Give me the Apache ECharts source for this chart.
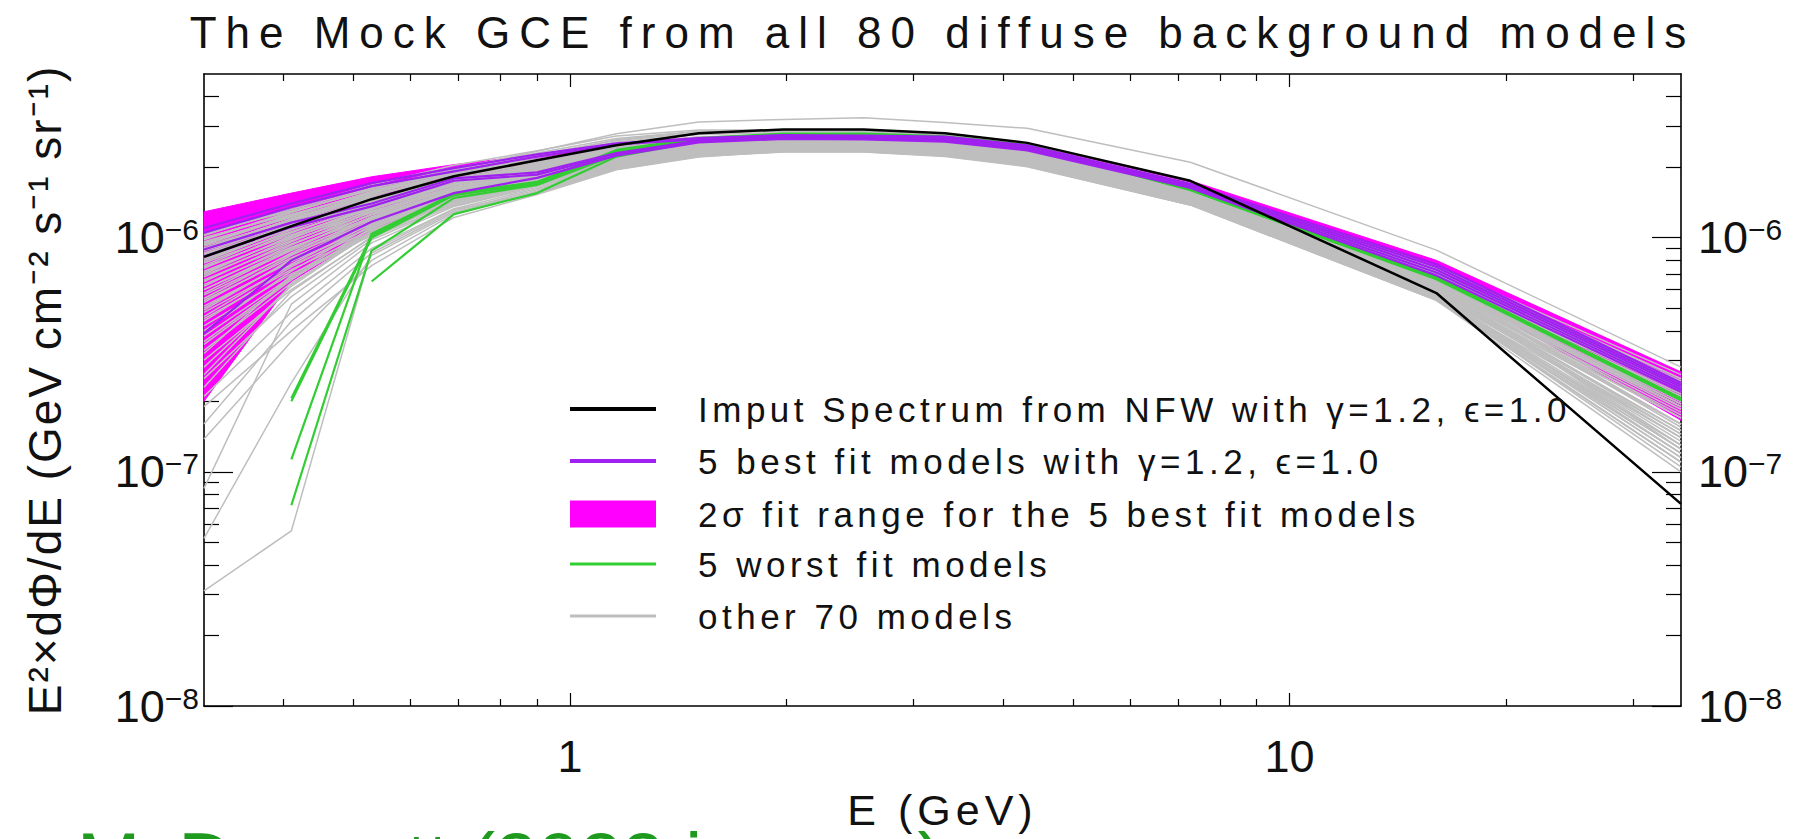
<!DOCTYPE html>
<html><head><meta charset="utf-8">
<script src="https://cdn.jsdelivr.net/npm/echarts@6/dist/echarts.min.js"></script>
<style>
html,body{margin:0;padding:0;background:#fff;}
#chart{width:1799px;height:839px;}
#chart text[style*="44px"]{letter-spacing:9px;}
#chart text[style*="35px"]{letter-spacing:4.5px;}
#chart text[style*="43px"]{letter-spacing:5px;}
#chart text[style*="46px"]{letter-spacing:2px;}
</style></head><body><div id="chart"></div>
<script>
// ---- data (flux values in units of 1e-7 GeV cm^-2 s^-1 sr^-1) ----
const UNIT = 1e-7;
const energies = [0.31, 0.41, 0.53, 0.69, 0.90, 1.16, 1.51, 1.98, 2.56, 3.32, 4.32, 7.28, 16.0, 35.0];
const inputSpectrum = [8.28, 11.2, 14.6, 18.3, 21.4, 24.8, 27.9, 29.0, 29.0, 27.9, 25.4, 17.5, 5.8, 0.73];
const bestFitModels = [
  [11.0, 14.0, 17.1, 19.8, 22.7, 25.3, 26.6, 27.4, 27.3, 27.0, 24.8, 17.0, 7.7, 2.4],
  [10.5, 13.5, 16.6, 19.2, 22.2, 25.0, 26.3, 27.2, 27.1, 26.6, 24.5, 16.8, 7.5, 2.35],
  [8.9, 11.6, 14.0, 17.9, 19.0, 23.0, 26.0, 26.8, 26.7, 26.2, 24.1, 16.6, 7.3, 2.3],
  [8.3, 11.1, 13.6, 17.5, 18.6, 22.7, 25.7, 26.6, 26.5, 25.9, 23.8, 16.4, 7.1, 2.25],
  [3.9, 8.0, 11.7, 15.5, 18.0, 22.4, 25.5, 26.4, 26.3, 25.7, 23.6, 16.3, 6.9, 2.2]
];
const bandUpper = [12.9, 15.5, 18.2, 20.5, 22.6, 25.2, 26.9, 27.5, 27.4, 26.9, 24.9, 17.5, 8.0, 2.67];
const bandLower = [2.0, 6.5, 10.6, 14.8, 17.6, 21.5, 25.0, 26.0, 26.0, 25.3, 23.3, 15.8, 6.6, 1.66];
const worstFitModels = [
  [null, 2.06, 10.2, 15.5, 17.3, 23.7, 26.6, 27.8, 27.8, 27.1, 24.9, 16.2, 6.8, 2.06],
  [null, 2.0, 10.0, 15.2, 17.0, 23.4, 26.4, 27.6, 27.6, 26.9, 24.8, 16.1, 6.75, 2.05],
  [null, 1.13, 10.4, 15.4, 17.2, 23.0, 26.2, 27.5, 27.5, 26.8, 24.7, 16.1, 6.7, 2.04],
  [null, 0.72, 8.8, 14.8, 16.8, 22.6, 26.0, 27.4, 27.4, 26.7, 24.6, 16.0, 6.7, 2.03],
  [null, null, 6.5, 12.6, 15.5, 22.2, 25.8, 27.2, 27.3, 26.6, 24.5, 16.0, 6.65, 2.02]
];
const otherModels = [
  [9.0, 12.0, 15.6, 19.6, 23.4, 27.8, 31.2, 32.0, 32.5, 31.0, 29.3, 21.0, 8.85, 2.8],
  [9.8, 12.8, 16.2, 19.8, 23.0, 26.5, 28.5, 28.7, 28.4, 27.2, 24.6, 16.8, 7.2, 2.4],
  [9.3, 12.3, 15.8, 19.4, 22.6, 26.0, 28.0, 28.4, 28.2, 27.0, 24.4, 16.6, 7.1, 2.3],
  [10.2, 13.4, 16.8, 20.4, 23.5, 27.2, 28.8, 28.8, 28.5, 27.4, 24.8, 17.0, 7.4, 2.5],
  [8.6, 11.6, 15.0, 18.8, 22.0, 25.6, 27.6, 28.0, 27.8, 26.6, 24.0, 16.4, 7.0, 2.3],
  [8.0, 11.0, 14.4, 18.2, 21.4, 25.0, 27.0, 27.5, 27.3, 26.2, 23.8, 16.2, 6.9, 2.2],
  [9.0, 12.0, 15.4, 19.0, 22.3, 26.2, 28.4, 28.7, 28.6, 27.4, 24.9, 17.1, 7.5, 2.6],
  [10.5, 13.0, 16.0, 19.0, 21.5, 24.5, 26.5, 27.0, 27.0, 26.0, 23.8, 16.2, 7.2, 2.5],
  [10.0, 12.6, 15.5, 18.6, 21.0, 24.0, 26.0, 26.8, 26.8, 25.8, 23.6, 16.0, 7.0, 2.4],
  [9.6, 12.2, 15.2, 18.2, 20.6, 23.6, 25.6, 26.4, 26.4, 25.4, 23.2, 15.8, 6.9, 2.3],
  [9.2, 11.8, 14.8, 17.8, 20.3, 23.3, 25.3, 26.2, 26.2, 25.2, 23.0, 15.6, 6.8, 2.2],
  [8.8, 11.5, 14.5, 17.5, 20.0, 23.0, 25.0, 25.9, 25.9, 24.9, 22.7, 15.5, 6.7, 2.1],
  [8.5, 11.2, 14.2, 17.2, 19.7, 22.8, 24.8, 25.6, 25.6, 24.6, 22.4, 15.3, 6.6, 2.0],
  [8.1, 10.9, 13.9, 16.9, 19.5, 22.6, 24.6, 25.4, 25.4, 24.4, 22.2, 15.2, 6.5, 1.95],
  [7.8, 10.6, 13.6, 16.7, 19.3, 22.4, 24.4, 25.2, 25.2, 24.2, 22.0, 15.0, 6.4, 1.9],
  [7.5, 10.3, 13.3, 16.4, 19.0, 22.2, 24.2, 25.0, 25.0, 24.0, 21.8, 14.9, 6.3, 1.85],
  [7.2, 10.0, 13.0, 16.2, 18.8, 22.0, 24.0, 24.8, 24.8, 23.8, 21.6, 14.8, 6.2, 1.8],
  [6.9, 9.7, 12.8, 16.0, 18.6, 21.8, 23.8, 24.6, 24.6, 23.6, 21.5, 14.7, 6.1, 1.75],
  [6.6, 9.4, 12.5, 15.8, 18.4, 21.6, 23.6, 24.5, 24.5, 23.5, 21.3, 14.6, 6.0, 1.7],
  [6.3, 9.1, 12.2, 15.5, 18.2, 21.4, 23.4, 24.3, 24.3, 23.3, 21.2, 14.5, 5.9, 1.6],
  [6.0, 8.8, 12.0, 15.3, 18.0, 21.2, 23.2, 24.1, 24.1, 23.1, 21.0, 14.4, 5.8, 1.5],
  [5.7, 8.5, 11.7, 15.0, 17.8, 21.0, 23.0, 24.0, 24.0, 23.0, 20.9, 14.3, 5.7, 1.45],
  [5.4, 8.2, 11.4, 14.8, 17.6, 20.8, 22.8, 23.8, 23.8, 22.8, 20.7, 14.2, 5.6, 1.4],
  [5.1, 7.9, 11.1, 14.5, 17.4, 20.6, 22.6, 23.6, 23.6, 22.6, 20.5, 14.0, 5.5, 1.3],
  [4.8, 7.6, 10.8, 14.2, 17.2, 20.4, 22.4, 23.4, 23.4, 22.4, 20.3, 13.9, 5.45, 1.2],
  [4.5, 7.3, 10.5, 14.0, 17.0, 20.2, 22.3, 23.3, 23.3, 22.3, 20.2, 13.8, 5.4, 1.1],
  [4.2, 7.0, 10.2, 13.7, 16.8, 20.0, 22.2, 23.2, 23.2, 22.2, 20.1, 13.8, 5.4, 1.0],
  [1.6, 4.4, 8.6, 13.0, 16.0, 20.0, 22.5, 23.8, 23.8, 22.8, 20.6, 14.0, 5.6, 1.25],
  [1.38, 3.6, 8.0, 12.6, 15.6, 19.8, 22.3, 23.6, 23.7, 22.7, 20.5, 13.9, 5.5, 1.15],
  [0.85, 5.2, 9.5, 13.6, 16.4, 20.3, 22.6, 23.9, 23.9, 22.9, 20.8, 14.2, 5.8, 1.4],
  [0.52, 2.4, 8.4, 12.8, 15.8, 19.9, 22.4, 23.7, 23.8, 22.8, 20.7, 14.1, 5.7, 1.3],
  [0.31, 0.56, 8.8, 13.2, 15.5, 19.6, 22.2, 23.5, 23.6, 22.6, 20.4, 13.8, 5.45, 1.1],
  [2.1, 4.8, 9.0, 13.3, 16.2, 20.2, 22.7, 24.0, 24.0, 23.0, 20.9, 14.3, 6.0, 1.6],
  [2.5, 5.6, 9.8, 13.8, 16.6, 20.5, 22.9, 24.1, 24.1, 23.1, 21.0, 14.4, 6.1, 1.7],
  [1.9, 4.0, 7.6, 12.2, 15.3, 19.5, 22.1, 23.4, 23.5, 22.5, 20.4, 13.9, 5.5, 1.05],
  [3.0, 6.0, 10.0, 14.0, 16.9, 20.7, 23.0, 24.2, 24.2, 23.2, 21.1, 14.5, 6.2, 1.9],
  [3.3, 6.4, 10.4, 14.3, 17.1, 20.9, 23.1, 24.3, 24.3, 23.3, 21.2, 14.6, 6.3, 2.0],
  [3.8, 6.8, 10.6, 14.6, 17.6, 21.0, 23.0, 24.0, 24.1, 23.2, 21.2, 14.6, 6.4, 2.1],
  [3.5, 6.6, 10.9, 15.0, 17.9, 21.3, 23.3, 24.3, 24.3, 23.4, 21.4, 14.9, 6.6, 2.2],
  [4.0, 7.2, 11.3, 15.3, 18.1, 21.5, 23.5, 24.6, 24.7, 23.7, 21.7, 15.1, 6.7, 2.3],
  [2.8, 6.2, 10.6, 14.8, 17.7, 21.1, 23.1, 24.2, 24.2, 23.3, 21.3, 14.7, 6.5, 2.15],
  [2.3, 5.9, 10.1, 14.4, 17.3, 20.8, 22.9, 24.0, 24.0, 23.1, 21.1, 14.5, 5.9, 1.5],
  [5.0, 8.0, 11.8, 15.6, 18.5, 21.7, 23.7, 24.7, 24.8, 23.9, 21.8, 15.0, 6.2, 1.6],
  [5.5, 8.6, 12.3, 16.0, 18.8, 22.0, 24.0, 25.0, 25.0, 24.1, 22.0, 15.1, 6.3, 1.55],
  [6.2, 9.3, 12.9, 16.5, 19.2, 22.3, 24.3, 25.2, 25.2, 24.3, 22.2, 15.3, 6.4, 1.6],
  [7.0, 10.2, 13.6, 17.0, 19.6, 22.6, 24.5, 25.4, 25.4, 24.5, 22.4, 15.5, 6.6, 1.7],
  [7.6, 10.8, 14.1, 17.4, 20.0, 22.9, 24.7, 25.5, 25.5, 24.6, 22.5, 15.6, 6.7, 2.0],
  [8.3, 11.4, 14.6, 17.8, 20.3, 23.2, 25.0, 25.7, 25.7, 24.8, 22.6, 15.7, 6.9, 2.3],
  [9.0, 12.0, 15.2, 18.3, 20.7, 23.5, 25.3, 25.9, 25.9, 25.0, 22.8, 15.8, 7.0, 2.4],
  [4.6, 7.7, 11.5, 15.4, 18.3, 21.6, 23.6, 24.4, 24.4, 23.5, 21.4, 14.8, 5.8, 1.2],
  [3.2, 6.9, 11.0, 15.1, 18.0, 21.4, 23.4, 24.3, 24.2, 23.2, 21.1, 14.4, 5.6, 1.15],
  [2.6, 6.3, 10.7, 14.9, 17.8, 21.2, 23.2, 24.1, 24.0, 23.0, 20.9, 14.2, 5.5, 1.1],
  [6.8, 9.9, 13.4, 16.9, 19.5, 22.5, 24.4, 25.3, 25.3, 24.4, 22.3, 15.4, 6.5, 1.9],
  [7.4, 10.5, 13.9, 17.3, 19.9, 22.8, 24.7, 25.5, 25.5, 24.6, 22.4, 15.6, 6.8, 2.2],
  [5.8, 8.9, 12.6, 16.3, 19.0, 22.2, 24.2, 25.1, 25.0, 24.0, 21.9, 15.0, 6.1, 1.45],
  [4.4, 7.5, 11.2, 15.0, 17.9, 21.3, 23.4, 24.3, 24.3, 23.3, 21.2, 14.5, 5.7, 1.25],
  [3.6, 6.7, 10.4, 14.4, 17.4, 20.9, 23.0, 24.0, 24.0, 23.0, 20.9, 14.3, 5.6, 1.2],
  [10.3, 13.2, 16.3, 19.2, 21.6, 24.4, 26.2, 26.7, 26.6, 25.6, 23.4, 16.0, 7.1, 2.45],
  [9.9, 12.9, 16.0, 19.0, 21.3, 24.1, 25.9, 26.5, 26.4, 25.4, 23.2, 15.9, 7.0, 2.35],
  [9.5, 12.5, 15.7, 18.7, 21.0, 23.8, 25.6, 26.2, 26.2, 25.2, 23.0, 15.8, 6.9, 2.3],
  [8.9, 11.9, 15.1, 18.2, 20.6, 23.4, 25.2, 25.9, 25.9, 24.9, 22.7, 15.6, 6.8, 2.25],
  [8.4, 11.4, 14.7, 17.9, 20.3, 23.1, 24.9, 25.6, 25.7, 24.7, 22.5, 15.5, 6.7, 2.2],
  [7.9, 11.0, 14.3, 17.6, 20.1, 22.9, 24.7, 25.5, 25.5, 24.5, 22.3, 15.3, 6.5, 2.1],
  [6.5, 9.6, 13.2, 16.8, 19.4, 22.4, 24.3, 25.2, 25.2, 24.2, 22.1, 15.2, 6.4, 2.05],
  [5.3, 8.4, 12.1, 15.9, 18.7, 21.9, 23.9, 24.8, 24.8, 23.8, 21.7, 14.9, 6.2, 1.95],
  [4.9, 8.1, 11.9, 15.8, 18.6, 21.8, 23.8, 24.7, 24.7, 23.7, 21.6, 14.8, 6.0, 1.5],
  [6.0, 9.0, 12.6, 16.2, 18.9, 22.0, 24.0, 24.9, 24.9, 23.9, 21.8, 14.9, 5.9, 1.35],
  [7.1, 10.1, 13.5, 16.9, 19.4, 22.3, 24.2, 25.1, 25.1, 24.1, 22.0, 15.0, 6.0, 1.4],
  [8.2, 11.2, 14.5, 17.7, 20.1, 22.9, 24.7, 25.4, 25.4, 24.4, 22.2, 15.2, 6.1, 1.3],
  [9.4, 12.4, 15.6, 18.6, 20.9, 23.6, 25.4, 26.0, 26.0, 25.0, 22.8, 15.6, 6.3, 1.25]
];

// ---- axes / ticks ----
const xMin = 0.31, xMax = 35;
const yMin = 1e-8, yMax = 5e-6;
const xMajorTicks = [1, 10];
const xTickLabels = ['1', '10'];
const xMinorTicks = [0.4, 0.5, 0.6, 0.7, 0.8, 0.9, 2, 3, 4, 5, 6, 7, 8, 9, 20, 30];
const yMajorTicks = [1e-8, 1e-7, 1e-6];
const yTickExponents = ['\u22128', '\u22127', '\u22126'];
const yMinorTicks = [2e-8, 3e-8, 4e-8, 5e-8, 6e-8, 7e-8, 8e-8, 9e-8,
                     2e-7, 3e-7, 4e-7, 5e-7, 6e-7, 7e-7, 8e-7, 9e-7,
                     2e-6, 3e-6, 4e-6];

// ---- text ----
const titleText = 'The Mock GCE from all 80 diffuse background models';
const xName = 'E (GeV)';
const yName = 'E\u00B2\u00D7d\u03A6/dE (GeV cm\u207B\u00B2 s\u207B\u00B9 sr\u207B\u00B9)';
const nameInput = 'Imput Spectrum from NFW with \u03B3=1.2, \u03F5=1.0';
const nameBest = '5 best fit models with \u03B3=1.2, \u03F5=1.0';
const nameBand = '2\u03C3 fit range for the 5 best fit models';
const nameWorst = '5 worst fit models';
const nameOther = 'other 70 models';
const footerText = 'McDermott (2022 in prep)';

// ---- styling ----
const FONT = "'Liberation Sans', Arial, sans-serif";
const INK = '#111';
const C_BLACK = '#000000', C_PURPLE = '#A020F0', C_MAGENTA = '#FF00FF', C_GREEN = '#32CD32', C_GRAY = '#BEBEBE';
const G = {left: 204, right: 118, top: 74, bottom: 133};
const W = 1799;

function pairs(vals) {
  const out = [];
  vals.forEach((v, i) => { if (v != null) out.push([energies[i], v * UNIT]); });
  return out;
}
function lineSeries(name, vals, color, width) {
  return {
    type: 'line', name: name, data: pairs(vals), color: color,
    showSymbol: false, symbol: 'none', silent: true, animation: false,
    lineStyle: {color: color, width: width}, itemStyle: {color: color},
    emphasis: {disabled: true}, z: 2
  };
}

const series = [];
series.push({
  type: 'custom', name: nameBand, silent: true, animation: false,
  itemStyle: {color: C_MAGENTA}, data: [[1, 1e-6]], z: 2,
  renderItem: function (params, api) {
    const pts = [];
    for (let i = 0; i < energies.length; i++) pts.push(api.coord([energies[i], bandUpper[i] * UNIT]));
    for (let i = energies.length - 1; i >= 0; i--) pts.push(api.coord([energies[i], bandLower[i] * UNIT]));
    return {type: 'polygon', shape: {points: pts}, style: {fill: C_MAGENTA, stroke: C_MAGENTA, lineWidth: 1}};
  }
});
otherModels.forEach(m => series.push(lineSeries(nameOther, m, C_GRAY, 1.5)));
worstFitModels.forEach(m => series.push(lineSeries(nameWorst, m, C_GREEN, 2.2)));
bestFitModels.forEach(m => series.push(lineSeries(nameBest, m, C_PURPLE, 2.2)));
series.push(lineSeries(nameInput, inputSpectrum, C_BLACK, 2.5));

const axisLineOn = {show: true, onZero: false, lineStyle: {color: '#000', width: 1.6}};
const axisLineOff = {show: false, onZero: false};
function xAx(pos, major, extra) {
  return Object.assign({
    type: 'log', logBase: 10, min: xMin, max: xMax, position: pos, gridIndex: 0,
    splitLine: {show: false}, axisPointer: {show: false},
    axisLine: major ? axisLineOn : axisLineOff,
    axisTick: {show: true, inside: true, length: major ? 13 : 7,
               customValues: major ? xMajorTicks : xMinorTicks,
               lineStyle: {color: '#000', width: 1.2}},
    axisLabel: {show: false}
  }, extra || {});
}
function yAx(pos, major, extra) {
  return Object.assign({
    type: 'log', logBase: 10, min: yMin, max: yMax, position: pos, gridIndex: 0,
    splitLine: {show: false}, axisPointer: {show: false},
    axisLine: major ? axisLineOn : axisLineOff,
    axisTick: {show: true, inside: true, length: major ? 29 : 15,
               customValues: major ? yMajorTicks : yMinorTicks,
               lineStyle: {color: '#000', width: 1.2}},
    axisLabel: {show: false}
  }, extra || {});
}
const yLabelRich = {
  b: {fontSize: 45, fontFamily: FONT, color: INK, lineHeight: 46},
  s: {fontSize: 30, fontFamily: FONT, color: INK, lineHeight: 30, verticalAlign: 'top'}
};
function yLabel(margin) {
  return {
    show: true, customValues: yMajorTicks, margin: margin, rich: yLabelRich,
    formatter: function (v) {
      const k = yMajorTicks.findIndex(t => Math.abs(t - v) / t < 1e-6);
      return '{b|10}{s|' + (k >= 0 ? yTickExponents[k] : '') + '}';
    }
  };
}

const legendText = {fontSize: 35, fontFamily: FONT, color: INK, lineHeight: 36, padding: [0, 0, 0, 37]};
const legendLeft = 570;

const option = {
  animation: false,
  backgroundColor: '#ffffff',
  title: {
    text: titleText, left: G.left + (W - G.left - G.right) / 2, top: 10, padding: 0, textAlign: 'center',
    textStyle: {fontSize: 44, fontWeight: 'normal', fontFamily: FONT, color: INK}
  },
  grid: {left: G.left, right: G.right, top: G.top, bottom: G.bottom, containLabel: false},
  legend: [
    {data: [nameInput, nameBest], orient: 'vertical', left: legendLeft, top: 391, padding: 0,
     itemWidth: 86, itemHeight: 4, itemGap: 16, icon: 'rect', selectedMode: false, textStyle: legendText},
    {data: [nameBand], orient: 'vertical', left: legendLeft, top: 496, padding: 0,
     itemWidth: 86, itemHeight: 27, itemGap: 16, icon: 'rect', selectedMode: false, textStyle: legendText},
    {data: [nameWorst, nameOther], orient: 'vertical', left: legendLeft, top: 546, padding: 0,
     itemWidth: 86, itemHeight: 3, itemGap: 16, icon: 'rect', selectedMode: false, textStyle: legendText}
  ],
  xAxis: [
    xAx('bottom', true, {
      axisLabel: {show: true, customValues: xMajorTicks, margin: 28, fontSize: 45, fontFamily: FONT, color: INK,
                  formatter: function (v) { const k = xMajorTicks.indexOf(v); return k >= 0 ? xTickLabels[k] : String(v); }},
      name: xName, nameLocation: 'middle', nameGap: 82,
      nameTextStyle: {fontSize: 43, fontFamily: FONT, color: INK}
    }),
    xAx('bottom', false),
    xAx('top', true),
    xAx('top', false)
  ],
  yAxis: [
    yAx('left', true, {
      axisLabel: yLabel(5),
      name: yName, nameLocation: 'middle', nameGap: 136,
      nameTextStyle: {fontSize: 46, fontFamily: FONT, color: INK}
    }),
    yAx('left', false),
    yAx('right', true, {axisLabel: yLabel(17)}),
    yAx('right', false)
  ],
  graphic: [{
    type: 'text', left: 77, top: 821, silent: true, z: -1,
    style: {text: footerText, fontSize: 76, fontFamily: FONT, fill: '#1e9b1e'}
  }],
  series: series
};

const chart = echarts.init(document.getElementById('chart'), null, {renderer: 'svg', width: 1799, height: 839});
chart.setOption(option);
</script>
</body></html>
